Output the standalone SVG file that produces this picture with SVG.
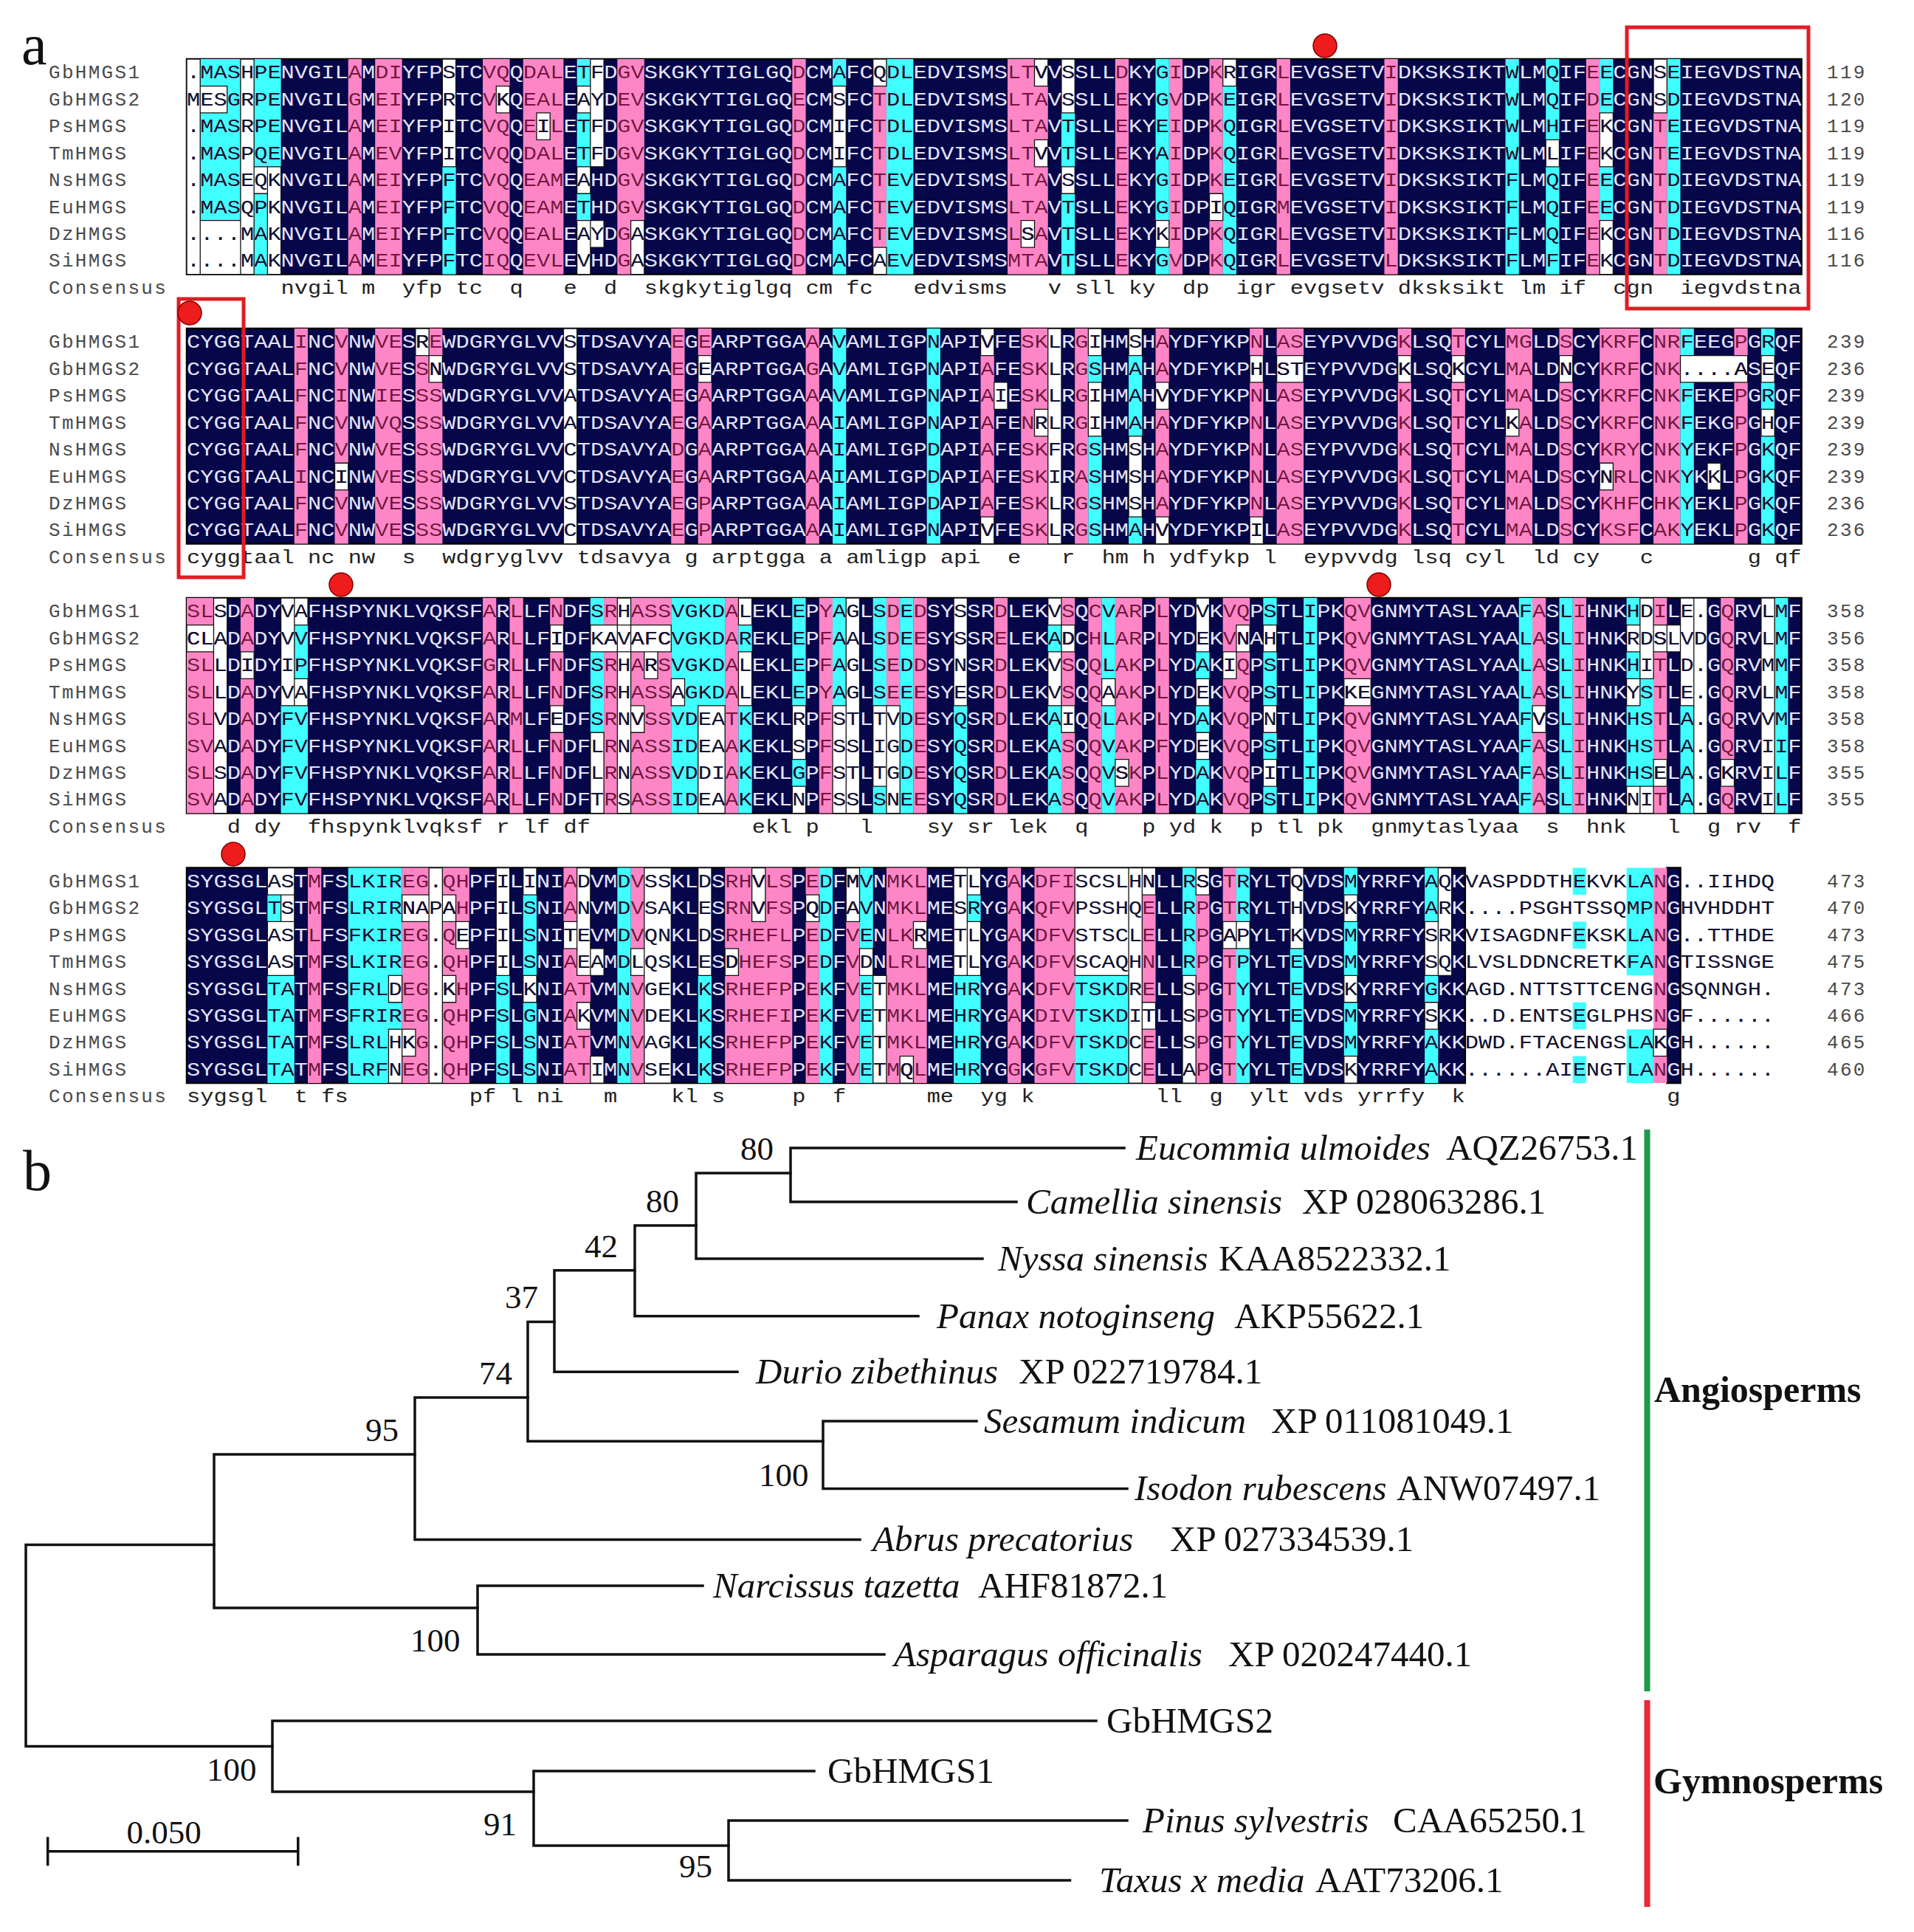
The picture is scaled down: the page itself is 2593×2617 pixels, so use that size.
<svg xmlns="http://www.w3.org/2000/svg" xmlns:xlink="http://www.w3.org/1999/xlink" width="2593" height="2617" viewBox="0 0 2593 2617">
<style>
.sq{font-family:"Liberation Mono","Courier New",monospace;font-size:26px}
.nm{font-family:"Liberation Mono","Courier New",monospace;font-size:26px;fill:#4a4a4a;letter-spacing:2.3px}
.cs{font-family:"Liberation Mono","Courier New",monospace;font-size:26px;fill:#222;white-space:pre}
.nv{fill:#06064a;stroke:#000;stroke-width:2.5}
.pk{fill:#ff86c6}
.cy{fill:#40ffff}
.wh{fill:#fff;stroke:#111;stroke-width:1.3}
.rb{fill:none;stroke:#e31b23;stroke-width:5}
.dot{fill:#ee1c1c;stroke:#7a0000;stroke-width:1.5}
.br{fill:none;stroke:#111;stroke-width:3.5;stroke-linecap:square}
.sf{font-family:"Liberation Serif","Times New Roman",serif;fill:#111}
.bs{font-size:45px}
.lb{font-size:49px}
.it{font-style:italic}
.grp{font-weight:bold;font-size:50px}
</style>
<defs>
<path id="b1p" transform="translate(253,80.1) scale(18.23,36.43)" d="M12 0h1v8h-1zM14 0h2v8h-2zM22 0h2v8h-2zM25 0h3v8h-3zM32 0h1v8h-1zM33 0h1v6h-1zM45 0h1v8h-1zM51 1h1v6h-1zM61 0h3v8h-3zM69 0h1v8h-1zM73 0h1v8h-1zM76 0h1v8h-1zM81 0h1v8h-1zM89 0h1v8h-1zM104 0h1v8h-1zM109 2h1v6h-1z"/>
<path id="b1c" transform="translate(253,80.1) scale(18.23,36.43)" d="M1 0h3v1h-3zM3 1h1v1h-1zM1 2h3v4h-3zM5 0h1v4h-1zM5 5h1v3h-1zM6 0h1v4h-1zM19 4h1v4h-1zM29 0h1v1h-1zM29 2h1v2h-1zM29 5h1v1h-1zM48 0h1v1h-1zM48 4h1v4h-1zM52 0h2v8h-2zM65 2h1v6h-1zM72 0h1v8h-1zM77 0h1v8h-1zM98 0h1v8h-1zM101 0h1v8h-1zM105 0h1v2h-1zM105 4h1v2h-1zM110 0h1v8h-1z"/>
<path id="b1w" vector-effect="non-scaling-stroke" transform="translate(253,80.1) scale(18.23,36.43)" d="M0 0h1v8H0zM1 1h2v1h-2zM1 6h3v2h-3zM4 0h1v8h-1zM5 4h1v1h-1zM6 4h1v4h-1zM19 0h1v4h-1zM23 1h1v1h-1zM26 2h1v1h-1zM29 1h1v1h-1zM29 4h1v1h-1zM29 6h1v2h-1zM30 0h1v4h-1zM30 6h1v1h-1zM33 6h1v2h-1zM48 1h1v3h-1zM51 0h1v1h-1zM51 7h1v1h-1zM62 6h1v1h-1zM63 0h1v1h-1zM63 3h1v1h-1zM65 0h1v2h-1zM65 4h1v1h-1zM72 6h1v1h-1zM76 5h1v1h-1zM77 0h1v1h-1zM101 3h1v1h-1zM105 2h1v2h-1zM105 6h1v2h-1zM109 0h1v2h-1z"/>
<path id="b2p" transform="translate(253,80.1) scale(18.23,36.43)" d="M8 0h1v8h-1zM11 0h1v8h-1zM14 0h2v8h-2zM17 0h2v8h-2zM36 0h1v8h-1zM38 0h1v8h-1zM46 0h1v8h-1zM59 0h1v8h-1zM62 0h2v8h-2zM66 0h1v8h-1zM72 0h1v8h-1zM79 0h1v8h-1zM81 0h2v8h-2zM90 0h1v8h-1zM94 0h1v8h-1zM98 0h2v8h-2zM102 0h1v8h-1zM105 0h3v8h-3zM109 0h2v8h-2zM115 0h1v8h-1z"/>
<path id="b2c" transform="translate(253,80.1) scale(18.23,36.43)" d="M48 0h1v8h-1zM55 0h1v8h-1zM67 1h1v1h-1zM67 4h1v4h-1zM70 1h1v3h-1zM70 7h1v1h-1zM111 0h1v8h-1zM117 0h1v8h-1z"/>
<path id="b2w" vector-effect="non-scaling-stroke" transform="translate(253,80.1) scale(18.23,36.43)" d="M28 0h1v8h-1zM64 0h1v8h-1zM11 5h1v1h-1zM17 0h1v1h-1zM18 1h1v1h-1zM38 1h1v1h-1zM59 0h1v1h-1zM59 7h1v1h-1zM60 2h1v1h-1zM63 3h1v1h-1zM67 0h1v1h-1zM67 2h1v2h-1zM70 0h1v1h-1zM70 4h1v3h-1zM72 2h1v1h-1zM72 7h1v1h-1zM79 1h1v1h-1zM79 7h1v1h-1zM81 1h2v1h-2zM90 1h1v1h-1zM94 1h1v1h-1zM98 3h1v1h-1zM102 1h1v1h-1zM105 5h1v1h-1zM111 1h5v1h-5zM113 5h1v1h-1zM117 1h1v1h-1zM117 3h1v1h-1z"/>
<path id="b3p" transform="translate(253,80.1) scale(18.23,36.43)" d="M0 0h2v8H0zM4 0h1v8h-1zM22 0h1v8h-1zM24 0h1v8h-1zM27 0h1v8h-1zM31 0h1v8h-1zM33 0h3v8h-3zM40 0h1v8h-1zM47 0h1v8h-1zM52 0h1v4h-1zM54 0h1v8h-1zM60 0h1v8h-1zM65 0h1v8h-1zM67 0h1v8h-1zM69 0h2v8h-2zM72 0h1v8h-1zM77 0h2v8h-2zM86 0h2v8h-2zM100 0h1v8h-1zM103 0h1v8h-1zM109 0h1v8h-1zM114 0h1v8h-1z"/>
<path id="b3c" transform="translate(253,80.1) scale(18.23,36.43)" d="M7 4h1v4h-1zM8 1h1v2h-1zM8 4h1v4h-1zM30 0h1v1h-1zM30 2h1v3h-1zM36 0h2v8h-2zM38 0h2v4h-2zM41 0h1v8h-1zM45 0h1v4h-1zM45 6h1v1h-1zM48 0h1v4h-1zM51 0h1v4h-1zM51 7h1v1h-1zM53 0h1v8h-1zM57 4h1v4h-1zM64 1h1v1h-1zM64 4h1v4h-1zM68 0h1v8h-1zM75 2h1v1h-1zM75 4h1v1h-1zM75 6h1v2h-1zM80 0h1v8h-1zM83 0h1v8h-1zM99 0h1v8h-1zM102 0h1v8h-1zM107 0h1v1h-1zM107 2h1v1h-1zM107 4h1v3h-1zM108 3h1v4h-1zM111 4h1v4h-1zM118 0h1v8h-1z"/>
<path id="b3w" vector-effect="non-scaling-stroke" transform="translate(253,80.1) scale(18.23,36.43)" d="M2 0h1v8h-1zM0 1h2v1H0zM4 2h1v1h-1zM7 0h1v4h-1zM8 0h1v1h-1zM8 3h1v1h-1zM27 1h1v1h-1zM27 4h1v1h-1zM30 1h6v1h-6zM30 5h1v3h-1zM32 0h1v8h-1zM34 2h1v1h-1zM33 4h1v1h-1zM36 3h1v1h-1zM38 4h2v4h-2zM41 0h1v1h-1zM41 2h1v2h-1zM45 4h1v2h-1zM45 7h1v1h-1zM48 4h1v4h-1zM49 0h1v8h-1zM51 4h1v3h-1zM52 4h1v4h-1zM57 0h1v4h-1zM64 0h1v1h-1zM64 2h1v2h-1zM65 1h1v1h-1zM65 4h1v1h-1zM68 3h1v1h-1zM69 6h1v1h-1zM75 0h1v2h-1zM75 3h1v1h-1zM75 5h1v1h-1zM78 1h1v1h-1zM77 2h1v1h-1zM80 1h1v1h-1zM80 4h1v1h-1zM80 6h1v1h-1zM86 3h2v1h-2zM100 4h1v1h-1zM107 1h1v1h-1zM107 3h1v1h-1zM107 7h1v1h-1zM108 0h1v3h-1zM108 7h1v1h-1zM109 1h1v1h-1zM109 6h1v1h-1zM110 1h1v1h-1zM111 0h1v4h-1zM112 0h1v8h-1zM114 6h1v1h-1zM117 0h1v8h-1z"/>
<path id="b4p" transform="translate(253,80.1) scale(18.23,36.43)" d="M9 0h1v8h-1zM16 0h2v8h-2zM19 0h2v8h-2zM28 0h1v8h-1zM29 4h1v1h-1zM29 6h1v2h-1zM33 0h1v8h-1zM40 0h5v8h-5zM46 0h1v8h-1zM49 0h1v8h-1zM52 0h3v8h-3zM61 0h1v8h-1zM63 0h3v8h-3zM71 0h1v8h-1zM75 0h1v8h-1zM77 0h1v8h-1zM109 0h1v8h-1z"/>
<path id="b4c" transform="translate(253,80.1) scale(18.23,36.43)" d="M6 1h1v1h-1zM6 4h1v4h-1zM7 4h1v4h-1zM12 0h3v8h-3zM15 0h1v4h-1zM15 5h1v1h-1zM23 4h1v4h-1zM25 0h1v8h-1zM32 0h1v8h-1zM38 4h1v4h-1zM47 0h1v8h-1zM50 0h1v8h-1zM57 4h2v4h-2zM58 1h1v1h-1zM66 4h4v4h-4zM74 0h1v4h-1zM78 0h1v8h-1zM82 0h1v8h-1zM86 0h1v8h-1zM92 0h1v8h-1zM103 0h1v1h-1zM103 2h1v1h-1zM103 5h1v1h-1zM103 7h1v1h-1zM107 0h2v4h-2zM107 6h2v2h-2z"/>
<path id="b4w" vector-effect="non-scaling-stroke" transform="translate(253,80.1) scale(18.23,36.43)" d="M6 0h2v1h-2zM6 2h2v2h-2zM7 1h1v1h-1zM15 4h1v1h-1zM15 6h1v2h-1zM16 1h2v1h-2zM16 6h1v1h-1zM18 0h1v8h-1zM19 1h1v1h-1zM19 4h1v1h-1zM20 2h1v1h-1zM23 0h1v4h-1zM25 0h1v1h-1zM25 4h1v1h-1zM28 2h1v1h-1zM29 0h1v4h-1zM29 5h1v1h-1zM30 3h1v1h-1zM30 7h1v1h-1zM33 3h1v1h-1zM34 0h2v8h-2zM38 0h1v4h-1zM40 3h1v1h-1zM42 0h1v2h-1zM46 1h1v1h-1zM49 0h1v2h-1zM50 3h1v1h-1zM51 4h1v4h-1zM54 2h1v1h-1zM53 7h1v1h-1zM57 0h1v4h-1zM58 0h1v1h-1zM58 2h1v2h-1zM66 0h4v4h-4zM70 0h1v8h-1zM71 0h1v1h-1zM71 5h1v1h-1zM74 4h1v4h-1zM75 0h1v1h-1zM77 2h1v1h-1zM78 2h1v1h-1zM82 0h1v3h-1zM86 1h1v1h-1zM86 4h1v1h-1zM86 7h1v1h-1zM92 2h1v2h-1zM92 5h1v1h-1zM93 0h1v4h-1zM109 6h1v1h-1z"/>
<path id="b4t" transform="translate(253,80.1) scale(18.23,36.43)" d="M95 0h14v8h-14zM111 0h7v8h-7z"/>
<clipPath id="k1p"><use href="#b1p"/></clipPath>
<clipPath id="k1c"><use href="#b1c"/><use href="#b1w"/></clipPath>
<clipPath id="k2p"><use href="#b2p"/></clipPath>
<clipPath id="k2c"><use href="#b2c"/><use href="#b2w"/></clipPath>
<clipPath id="k3p"><use href="#b3p"/></clipPath>
<clipPath id="k3c"><use href="#b3c"/><use href="#b3w"/></clipPath>
<clipPath id="k4p"><use href="#b4p"/></clipPath>
<clipPath id="k4c"><use href="#b4c"/><use href="#b4w"/><use href="#b4t"/></clipPath>
<g id="t1" class="sq">
<text x="253" y="106.3" textLength="2187.6" lengthAdjust="spacingAndGlyphs">.MASHPENVGILAMDIYFPSTCVQQDALETFDGVSKGKYTIGLGQDCMAFCQDLEDVISMSLTVVSSLLDKYGIDPKRIGRLEVGSETVIDKSKSIKTWLMQIFEECGNSEIEGVDSTNA</text>
<text x="253" y="142.7" textLength="2187.6" lengthAdjust="spacingAndGlyphs">MESGRPENVGILGMEIYFPRTCVKQEALEAYDEVSKGKYTIGLGQECMSFCTDLEDVISMSLTAVSSLLEKYGVDPKEIGRLEVGSETVIDKSKSIKTWLMQIFDECGNSDIEGVDSTNA</text>
<text x="253" y="179.2" textLength="2187.6" lengthAdjust="spacingAndGlyphs">.MASRPENVGILAMEIYFPITCVQQEILETFDGVSKGKYTIGLGQDCMIFCTDLEDVISMSLTAVTSLLEKYEIDPKQIGRLEVGSETVIDKSKSIKTWLMHIFEKCGNTEIEGVDSTNA</text>
<text x="253" y="215.6" textLength="2187.6" lengthAdjust="spacingAndGlyphs">.MASPQENVGILAMEVYFPITCVQQDALETFDGVSKGKYTIGLGQDCMIFCTDLEDVISMSLTVVTSLLEKYAIDPKQIGRLEVGSETVIDKSKSIKTWLMLIFEKCGNTEIEGVDSTNA</text>
<text x="253" y="252.0" textLength="2187.6" lengthAdjust="spacingAndGlyphs">.MASEQKNVGILAMEIYFPFTCVQQEAMEAHDGVSKGKYTIGLGQDCMAFCTEVEDVISMSLTAVSSLLEKYGIDPKEIGRLEVGSETVIDKSKSIKTFLMQIFEECGNTDIEGVDSTNA</text>
<text x="253" y="288.5" textLength="2187.6" lengthAdjust="spacingAndGlyphs">.MASQPKNVGILAMEIYFPFTCVQQEAMETHDGVSKGKYTIGLGQDCMAFCTEVEDVISMSLTAVTSLLEKYGIDPIQIGRMEVGSETVIDKSKSIKTFLMQIFEECGNTDIEGVDSTNA</text>
<text x="253" y="324.9" textLength="2187.6" lengthAdjust="spacingAndGlyphs">....MAKNVGILAMEIYFPFTCVQQEALEAYDGASKGKYTIGLGQDCMAFCTEVEDVISMSLSAVTSLLEKYKIDPKQIGRLEVGSETVIDKSKSIKTFLMQIFEKCGNTDIEGVDSTNA</text>
<text x="253" y="361.3" textLength="2187.6" lengthAdjust="spacingAndGlyphs">....MAKNVGILAMEIYFPFTCIQQEVLEVHDGASKGKYTIGLGQDCMAFCAEVEDVISMSMTAVTSLLEKYGVDPKQIGRLEVGSETVLDKSKSIKTFLMFIFEKCGNTDIEGVDSTNA</text>
</g>
<g id="t2" class="sq">
<text x="253" y="106.3" textLength="2187.6" lengthAdjust="spacingAndGlyphs">CYGGTAALINCVNWVESREWDGRYGLVVSTDSAVYAEGEARPTGGAAAVAMLIGPNAPIVFESKLRGIHMSHAYDFYKPNLASEYPVVDGKLSQTCYLMGLDSCYKRFCNRFEEGPGRQF</text>
<text x="253" y="142.7" textLength="2187.6" lengthAdjust="spacingAndGlyphs">CYGGTAALFNCVNWVESSNWDGRYGLVVSTDSAVYAEGEARPTGGAGAVAMLIGPNAPIAFESKLRGSHMAHAYDFYKPHLSTEYPVVDGKLSQKCYLMALDNCYKRFCNK....ASEQF</text>
<text x="253" y="179.2" textLength="2187.6" lengthAdjust="spacingAndGlyphs">CYGGTAALFNCINWIESSSWDGRYGLVVATDSAVYAEGAARPTGGAAAVAMLIGPNAPIAIESKLRGIHMAHVYDFYKPNLASEYPVVDGKLSQTCYLMALDSCYKRFCNKFEKEPGRQF</text>
<text x="253" y="215.6" textLength="2187.6" lengthAdjust="spacingAndGlyphs">CYGGTAALFNCVNWVQSSSWDGRYGLVVATDSAVYAEGAARPTGGAAAIAMLIGPNAPIAFENRLRGIHMAHAYDFYKPNLASEYPVVDGKLSQTCYLKALDSCYKRFCNKFEKGPGHQF</text>
<text x="253" y="252.0" textLength="2187.6" lengthAdjust="spacingAndGlyphs">CYGGTAALFNCVNWVESSSWDGRYGLVVCTDSAVYADGAARPTGGAAAIAMLIGPDAPIAFESKFRGSHMSHAYDFYKPNLASEYPVVDGKLSQTCYLMALDSCYKRYCNKYEKFPGKQF</text>
<text x="253" y="288.5" textLength="2187.6" lengthAdjust="spacingAndGlyphs">CYGGTAALINCINWVESSSWDGRYGLVVCTDSAVYAEGAARPTGGAAAIAMLIGPDAPIAFESKIRASHMSHAYDFYKPNLASEYPVVDGKLSQTCYLMALDSCYNRLCNKYKKLPGKQF</text>
<text x="253" y="324.9" textLength="2187.6" lengthAdjust="spacingAndGlyphs">CYGGTAALFNCVNWVESSSWDGRYGLVVSTDSAVYAEGPARPTGGAAAIAMLIGPDAPIAFESKLRGSHMSHAYDFYKPNLASEYPVVDGKLSQTCYLMALDSCYKHFCHKYEKLPGKQF</text>
<text x="253" y="361.3" textLength="2187.6" lengthAdjust="spacingAndGlyphs">CYGGTAALFNCVNWVESSSWDGRYGLVVCTDSAVYAEGPARPTGGAAAIAMLIGPNAPIVFESKLRGSHMAHVYDFYKPILASEYPVVDGKLSQTCYLMALDSCYKSFCAKYEKLPGKQF</text>
</g>
<g id="t3" class="sq">
<text x="253" y="106.3" textLength="2187.6" lengthAdjust="spacingAndGlyphs">SLSDADYVAFHSPYNKLVQKSFARLLFNDFSRHASSVGKDALEKLEPYAGLSDEDSYSSRDLEKVSQCVARPLYDVKVQPSTLIPKQVGNMYTASLYAAFASLIHNKHDILE.GQRVLMF</text>
<text x="253" y="142.7" textLength="2187.6" lengthAdjust="spacingAndGlyphs">CLADADYVVFHSPYNKLVQKSFARLLFIDFKAVAFCVGKDAREKLEPFAALSDEESYSSRELEKADCHLARPLYDEKVNAHTLIPKQVGNMYTASLYAALASLIHNKRDSLVDGQRVLMF</text>
<text x="253" y="179.2" textLength="2187.6" lengthAdjust="spacingAndGlyphs">SLLDIDYIPFHSPYNKLVQKSFGRLLFNDFSRHARSVGKDALEKLEPFAGLSEDDSYNSRDLEKVSQQLAKPLYDAKIQPSTLIPKQVGNMYTASLYAALASLIHNKHITLD.GQRVMMF</text>
<text x="253" y="215.6" textLength="2187.6" lengthAdjust="spacingAndGlyphs">SLLDADYVAFHSPYNKLVQKSFARLLFNDFSRHASSAGKDALEKLEPYAGLSEEESYESRDLEKVSQQAAKPLYDEKVQPSTLIPKKEGNMYTASLYAALASLIHNKYSTLE.GQRVLMF</text>
<text x="253" y="252.0" textLength="2187.6" lengthAdjust="spacingAndGlyphs">SLVDADYFVFHSPYNKLVQKSFARMLFEDFSRNVSSVDEATKEKLRPFSTLTVDESYQSRDLEKAIQQLAKPLYDAKVQPNTLIPKQVGNMYTASLYAAFVSLIHNKHSTLA.GQRVVMF</text>
<text x="253" y="288.5" textLength="2187.6" lengthAdjust="spacingAndGlyphs">SVADADYFVFHSPYNKLVQKSFARLLFNDFLRNASSIDEAAKEKLSPFSSLIGDESYQSRDLEKASQQVAKPFYDEKVQPSTLIPKQVGNMYTASLYAAFASLIHNKHSTLA.GQRVIIF</text>
<text x="253" y="324.9" textLength="2187.6" lengthAdjust="spacingAndGlyphs">SLSDADYFVFHSPYNKLVQKSFARLLFNDFLRNASSVDDIAKEKLGPFSTLTGDESYQSRDLEKASQQVSKPLYDAKVQPITLIPKQVGNMYTASLYAAFASLIHNKHSELA.GKRVILF</text>
<text x="253" y="361.3" textLength="2187.6" lengthAdjust="spacingAndGlyphs">SVADADYFVFHSPYNKLVQKSFARLLFNDFTRSASSIDEAAKEKLNPFSSLSNEESYQSRDLEKASQQVAKPLYDAKVQPSTLIPKQVGNMYTASLYAAFASLIHNKNITLA.GQRVILF</text>
</g>
<g id="t4" class="sq">
<text x="253" y="106.3" textLength="2151.1" lengthAdjust="spacingAndGlyphs">SYGSGLASTMFSLKIREG.QHPFILINIADVMDVSSKLDSRHVLSPEDFMVNMKLMETLYGAKDFISCSLHNLLRSGTRYLTQVDSMYRRFYAQKVASPDDTHEKVKLANG..IIHDQ</text>
<text x="253" y="142.7" textLength="2151.1" lengthAdjust="spacingAndGlyphs">SYGSGLTSTMFSLRIRNAPAHPFILSNIANVMDVSAKLESRNVFSPQDFAVNMKLMESRYGAKQFVPSSHQELLRPGTRYLTHVDSKYRRFYARK....PSGHTSSQMPNGHVHDDHT</text>
<text x="253" y="179.2" textLength="2151.1" lengthAdjust="spacingAndGlyphs">SYGSGLASTLFSFKIREG.QEPFILSNITEVMDVQNKLDSRHEFLPEDFVENLKRMETLYGAKDFVSTSCLELLRPGAPYLTKVDSMYRRFYSRKVISAGDNFEKSKLANG..TTHDE</text>
<text x="253" y="215.6" textLength="2151.1" lengthAdjust="spacingAndGlyphs">SYGSGLASTMFSLKIREG.QHPFILSNIAEAMDLQSKLESDHEFSPEDFVDNLRLMETLYGAKDFVSCAQHNLLRPGTPYLTEVDSMYRRFYSQKLVSLDDNCRETKFANGTISSNGE</text>
<text x="253" y="252.0" textLength="2151.1" lengthAdjust="spacingAndGlyphs">SYGSGLTATMFSFRLDEG.KHPFSLKNIATVMNVGEKLKSRHEFPPEKFVETMKLMEHRYGAKDFVTSKDRELLSPGTYYLTEVDSKYRRFYGKKAGD.NTTSTTCENGNGSQNNGH.</text>
<text x="253" y="288.5" textLength="2151.1" lengthAdjust="spacingAndGlyphs">SYGSGLTATMFSFRIREG.QHPFSLGNIAKVMNVDEKLKSRHEFIPEKFVETMKLMEHRYGAKDIVTSKDITLLSPGTYYLTEVDSMYRRFYSKK..D.ENTSEGLPHSNGF......</text>
<text x="253" y="324.9" textLength="2151.1" lengthAdjust="spacingAndGlyphs">SYGSGLTATMFSLRLHKG.QHPFSLSNIATVMNVAGKLKSRHEFPPEKFVETMKLMEHRYGAKDFVTSKDCELLSPGTYYLTEVDSMYRRFYAKKDWD.FTACENGSLAKGH......</text>
<text x="253" y="361.3" textLength="2151.1" lengthAdjust="spacingAndGlyphs">SYGSGLTATMFSLRFNEG.QHPFSLSNIATIMNVSEKLKSRHEFPPEKFVETMQLMEHRYGGKGFVTSKDCELLAPGTYYLTEVDSKYRRFYAKK......AIENGTLANGH......</text>
</g>
<g id="names">
<text class="nm" x="66" y="106.3">GbHMGS1</text>
<text class="nm" x="66" y="142.7">GbHMGS2</text>
<text class="nm" x="66" y="179.2">PsHMGS</text>
<text class="nm" x="66" y="215.6">TmHMGS</text>
<text class="nm" x="66" y="252.0">NsHMGS</text>
<text class="nm" x="66" y="288.5">EuHMGS</text>
<text class="nm" x="66" y="324.9">DzHMGS</text>
<text class="nm" x="66" y="361.3">SiHMGS</text>
<text class="nm" x="66" y="397.7">Consensus</text>
</g>
</defs>

<rect width="2593" height="2617" fill="#fff"/>

<g id="panel-a">
<text class="sf" x="29" y="87" font-size="78">a</text>

<g id="block1">
<path class="nv" vector-effect="non-scaling-stroke" transform="translate(253,80.1) scale(18.23,36.43)" d="M0 0h120v8H0z"/>
<use href="#b1p" class="pk"/><use href="#b1c" class="cy"/><use href="#b1w" class="wh"/>
<use href="#t1" fill="#e4e4fa"/>
<use href="#t1" fill="#7a1040" clip-path="url(#k1p)"/>
<use href="#t1" fill="#101030" clip-path="url(#k1c)"/>
<use href="#names"/>
<text class="cs" xml:space="preserve" x="380.6" y="397.7" textLength="2060" lengthAdjust="spacingAndGlyphs">nvgil m  yfp tc  q   e  d  skgkytiglgq cm fc   edvisms   v sll ky  dp  igr evgsetv dksksikt lm if  cgn  iegvdstna</text>
<g class="nm"><text x="2475" y="106.3">119</text><text x="2475" y="142.7">120</text><text x="2475" y="179.2">119</text><text x="2475" y="215.6">119</text><text x="2475" y="252.0">119</text><text x="2475" y="288.5">119</text><text x="2475" y="324.9">116</text><text x="2475" y="361.3">116</text></g>
</g>

<g id="block2" transform="translate(0,365)">
<path class="nv" vector-effect="non-scaling-stroke" transform="translate(253,80.1) scale(18.23,36.43)" d="M0 0h120v8H0z"/>
<use href="#b2p" class="pk"/><use href="#b2c" class="cy"/><use href="#b2w" class="wh"/>
<use href="#t2" fill="#e4e4fa"/>
<use href="#t2" fill="#7a1040" clip-path="url(#k2p)"/>
<use href="#t2" fill="#101030" clip-path="url(#k2c)"/>
<use href="#names"/>
<text class="cs" xml:space="preserve" x="253" y="397.7" textLength="2187.6" lengthAdjust="spacingAndGlyphs">cyggtaal nc nw  s  wdgryglvv tdsavya g arptgga a amligp api  e   r  hm h ydfykp l  eypvvdg lsq cyl  ld cy   c       g qf</text>
<g class="nm"><text x="2475" y="106.3">239</text><text x="2475" y="142.7">236</text><text x="2475" y="179.2">239</text><text x="2475" y="215.6">239</text><text x="2475" y="252.0">239</text><text x="2475" y="288.5">239</text><text x="2475" y="324.9">236</text><text x="2475" y="361.3">236</text></g>
</g>

<g id="block3" transform="translate(0,730)">
<path class="nv" vector-effect="non-scaling-stroke" transform="translate(253,80.1) scale(18.23,36.43)" d="M0 0h120v8H0z"/>
<use href="#b3p" class="pk"/><use href="#b3c" class="cy"/><use href="#b3w" class="wh"/>
<use href="#t3" fill="#e4e4fa"/>
<use href="#t3" fill="#7a1040" clip-path="url(#k3p)"/>
<use href="#t3" fill="#101030" clip-path="url(#k3c)"/>
<use href="#names"/>
<text class="cs" xml:space="preserve" x="307.7" y="397.7" textLength="2132.9" lengthAdjust="spacingAndGlyphs">d dy  fhspynklvqksf r lf df            ekl p   l    sy sr lek  q    p yd k  p tl pk  gnmytaslyaa  s  hnk   l  g rv  f</text>
<g class="nm"><text x="2475" y="106.3">358</text><text x="2475" y="142.7">356</text><text x="2475" y="179.2">358</text><text x="2475" y="215.6">358</text><text x="2475" y="252.0">358</text><text x="2475" y="288.5">358</text><text x="2475" y="324.9">355</text><text x="2475" y="361.3">355</text></g>
</g>

<g id="block4" transform="translate(0,1095.5)">
<path class="nv" vector-effect="non-scaling-stroke" transform="translate(253,80.1) scale(18.23,36.43)" d="M0 0h95v8H0zM110 0h1v8h-1z"/>
<use href="#b4p" class="pk"/><use href="#b4c" class="cy"/><use href="#b4w" class="wh"/>
<use href="#t4" fill="#e4e4fa"/>
<use href="#t4" fill="#7a1040" clip-path="url(#k4p)"/>
<use href="#t4" fill="#101030" clip-path="url(#k4c)"/>
<use href="#names"/>
<text class="cs" xml:space="preserve" x="253" y="397.7" textLength="2023.5" lengthAdjust="spacingAndGlyphs">sygsgl  t fs         pf l ni   m    kl s     p  f      me  yg k         ll  g  ylt vds yrrfy  k               g</text>
<g class="nm"><text x="2475" y="106.3">473</text><text x="2475" y="142.7">470</text><text x="2475" y="179.2">473</text><text x="2475" y="215.6">475</text><text x="2475" y="252.0">473</text><text x="2475" y="288.5">466</text><text x="2475" y="324.9">465</text><text x="2475" y="361.3">460</text></g>
</g>

<g id="highlights">
<rect class="rb" x="2204" y="37" width="246" height="381"/>
<rect class="rb" x="242" y="405" width="88" height="377"/>
<circle class="dot" cx="1795" cy="62" r="16"/>
<circle class="dot" cx="257" cy="424" r="16"/>
<circle class="dot" cx="462" cy="792" r="16"/>
<circle class="dot" cx="1868" cy="792" r="16"/>
<circle class="dot" cx="316" cy="1157" r="16"/>
</g>
</g>

<g id="panel-b">
<text class="sf" x="31" y="1612" font-size="78">b</text>
<g id="connectors" class="br">
<path d="M290 2092.6H35V2365.4H369"/>
<path d="M562 1970H290V2178H647"/>
<path d="M715 1893H562V2085.5H1165"/>
<path d="M751 1790.6H715V1952.3H1115"/>
<path d="M860 1720.8H751V1858.3H999"/>
<path d="M943 1660H860V1782.8H1244"/>
<path d="M1071 1589H943V1705H1331"/>
<path d="M1523 1555H1071V1628H1377"/>
<path d="M1323 1925H1115V2016.4H1527"/>
<path d="M952 2148H647V2241H1198"/>
<path d="M1485 2331H369V2427H723"/>
<path d="M1103 2399H723V2500H987"/>
<path d="M1527 2466H987V2547H1449.5"/>
</g>
<g id="bootstrap" class="sf bs">
<text x="1003" y="1571">80</text>
<text x="875" y="1642">80</text>
<text x="792" y="1703">42</text>
<text x="684" y="1772">37</text>
<text x="649" y="1875">74</text>
<text x="495" y="1952">95</text>
<text x="1028" y="2013">100</text>
<text x="556" y="2237">100</text>
<text x="280" y="2412">100</text>
<text x="655" y="2486">91</text>
<text x="920" y="2543">95</text>
</g>
<g id="leaves" class="sf lb">
<g id="leaf-eucommia"><text class="it" x="1539" y="1571">Eucommia ulmoides</text><text x="1959" y="1571">AQZ26753.1</text></g>
<g id="leaf-camellia"><text class="it" x="1390" y="1644">Camellia sinensis</text><text x="1764" y="1644">XP 028063286.1</text></g>
<g id="leaf-nyssa"><text class="it" x="1352" y="1721">Nyssa sinensis</text><text x="1651" y="1721">KAA8522332.1</text></g>
<g id="leaf-panax"><text class="it" x="1269" y="1799">Panax notoginseng</text><text x="1672" y="1799">AKP55622.1</text></g>
<g id="leaf-durio"><text class="it" x="1024" y="1874">Durio zibethinus</text><text x="1380" y="1874">XP 022719784.1</text></g>
<g id="leaf-sesamum"><text class="it" x="1333" y="1941">Sesamum indicum</text><text x="1722" y="1941">XP 011081049.1</text></g>
<g id="leaf-isodon"><text class="it" x="1537" y="2032">Isodon rubescens</text><text x="1892" y="2032">ANW07497.1</text></g>
<g id="leaf-abrus"><text class="it" x="1182" y="2101">Abrus precatorius</text><text x="1585" y="2101">XP 027334539.1</text></g>
<g id="leaf-narcissus"><text class="it" x="966" y="2164">Narcissus tazetta</text><text x="1325" y="2164">AHF81872.1</text></g>
<g id="leaf-asparagus"><text class="it" x="1211" y="2257">Asparagus officinalis</text><text x="1664" y="2257">XP 020247440.1</text></g>
<g id="leaf-gbhmgs2"><text x="1499" y="2347">GbHMGS2</text></g>
<g id="leaf-gbhmgs1"><text x="1121" y="2415">GbHMGS1</text></g>
<g id="leaf-pinus"><text class="it" x="1548" y="2482">Pinus sylvestris</text><text x="1887" y="2482">CAA65250.1</text></g>
<g id="leaf-taxus"><text class="it" x="1489" y="2563">Taxus x media</text><text x="1782" y="2563">AAT73206.1</text></g>
</g>
<g id="scale-bar">
<path class="br" d="M64.7 2507.8H403.8M64.7 2490V2525.6M403.8 2490V2525.6"/>
<text class="sf bs" x="222" y="2497" text-anchor="middle">0.050</text>
</g>
<g id="groups">
<rect x="2227.5" y="1530" width="8" height="761" fill="#1e9a4a"/>
<rect x="2227.5" y="2303" width="8" height="280" fill="#e8293a"/>
<text class="sf grp" x="2241" y="1899">Angiosperms</text>
<text class="sf grp" x="2240" y="2429">Gymnosperms</text>
</g>
</g>
</svg>
